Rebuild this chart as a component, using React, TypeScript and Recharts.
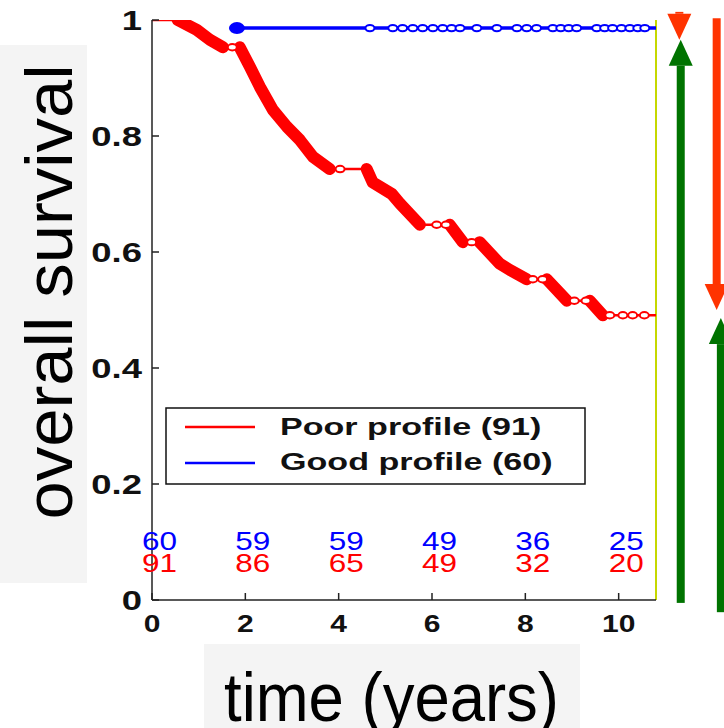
import { ComposedChart, Line, Scatter, XAxis, YAxis, ReferenceLine, ReferenceDot, Legend } from "recharts";

// Kaplan-Meier knots (time in years, survival)
const poorTimes = [0, 0.55, 0.96, 1.24, 1.52, 1.88, 2.1, 2.31, 2.59, 2.89, 3.17, 3.45, 3.81, 4.6, 4.73, 5.14, 5.31, 5.74, 6.38, 6.66, 7.02, 7.45, 7.67, 8.03, 8.46, 8.89, 9.38, 9.66, 10.8];
const poorSurv = [1, 1, 0.983, 0.966, 0.953, 0.953, 0.919, 0.885, 0.845, 0.816, 0.793, 0.764, 0.743, 0.743, 0.72, 0.7, 0.684, 0.647, 0.647, 0.617, 0.617, 0.58, 0.569, 0.553, 0.553, 0.516, 0.516, 0.491, 0.491];
// stretches where events and censor marks pile up into a thick band
const poorDenseSpans = [[0.55, 1.52], [1.88, 3.81], [4.6, 5.74], [6.38, 6.66], [7.02, 8.03], [8.46, 8.89], [9.38, 9.66]];
const poorCensorTimes = [1.72, 4.03, 6.1, 6.3, 6.85, 8.16, 8.37, 9.05, 9.3, 9.81, 10.09, 10.3, 10.55];

// good profile: flat at 1 (hidden under the frame) until the single drop
const goodTimes = [1.82, 10.8];
const goodSurv = [0.986, 0.986];
const goodEventTimes = [1.82];
const goodCensorTimes = [4.67, 5.16, 5.37, 5.59, 5.8, 6.02, 6.23, 6.42, 6.6, 6.96, 7.39, 7.82, 8.03, 8.24, 8.59, 8.76, 8.93, 9.1, 9.53, 9.7, 9.87, 10.06, 10.24, 10.41, 10.56];

// numbers at risk
const riskYears = [0, 2, 4, 6, 8, 10];
const riskGood = [60, 59, 59, 49, 36, 25];
const riskPoor = [91, 86, 65, 49, 32, 20];

const xTicks = [0, 2, 4, 6, 8, 10];
const yTicks = [0, 0.2, 0.4, 0.6, 0.8, 1];

const POOR = "Poor profile (91)";
const GOOD = "Good profile (60)";
const RED = "#ff0000";
const BLUE = "#0000ff";
const ARROW_RED = "#ff3300";
const ARROW_GREEN = "#007300";
const FONT = "'Liberation Sans', Arial, sans-serif";

// annotation arrows beside the plot (x in years, y in survival)
const arrows = [
  { x: 11.3, from: 1.014, to: 0.966, color: ARROW_RED },
  { x: 11.33, from: -0.005, to: 0.966, color: ARROW_GREEN },
  { x: 12.1, from: 1.003, to: 0.5, color: ARROW_RED },
  { x: 12.19, from: -0.021, to: 0.486, color: ARROW_GREEN },
];

const stepAt = (t: number) => {
  let v = poorSurv[0];
  poorTimes.forEach((pt, i) => { if (pt <= t) v = poorSurv[i]; });
  return v;
};

const poorData = poorTimes.map((t, i) => ({ t, s: poorSurv[i] }));
const poorBands = poorDenseSpans.map(([a, b]) => poorData.filter((d) => d.t >= a && d.t <= b));
const poorCensors = poorCensorTimes.map((t) => ({ t, s: stepAt(t) }));
const goodData = goodTimes.map((t, i) => ({ t, s: goodSurv[i] }));
const goodEvents = goodEventTimes.map((t) => ({ t, s: goodSurv[0] }));
const goodCensors = goodCensorTimes.map((t) => ({ t, s: goodSurv[0] }));
const riskRows = [
  ...riskYears.map((t, i) => ({ t, s: 0.102, n: riskGood[i], color: BLUE })),
  ...riskYears.map((t, i) => ({ t, s: 0.064, n: riskPoor[i], color: RED })),
];

const fmt = (v: number) => (v === 0 || v === 1 ? String(v) : v.toFixed(1));

const YTick = ({ x, y, payload }: any) => (
  <text transform={`translate(${x},${y + 9.5}) scale(1.35,1)`} textAnchor="end" fontFamily={FONT} fontWeight="bold" fontSize={27} fill="#111">
    {fmt(payload.value)}
  </text>
);

const XTick = ({ x, y, payload }: any) => (
  <text transform={`translate(${x},${y + 8.6}) scale(1.25,1)`} textAnchor="middle" fontFamily={FONT} fontWeight="bold" fontSize={24} fill="#111">
    {payload.value}
  </text>
);

const openMark = (color: string) => (p: any) => (
  <ellipse cx={p.cx} cy={p.cy} rx={4.5} ry={3.2} fill="#fff" stroke={color} strokeWidth={2} />
);

const riskText = (n: number, color: string) => (p: any) => (
  <text transform={`translate(${p.cx - 10},${p.cy + 9}) scale(1.26,1)`} fontFamily={FONT} fontSize={25} fill={color}>
    {n}
  </text>
);

const arrowShape = (color: string) => (p: any) => {
  const { x1, y1, x2, y2 } = p;
  const dir = y2 > y1 ? 1 : -1;
  const head = 26;
  const baseY = y2 - dir * head;
  return (
    <g>
      <rect x={x1 - 4} y={Math.min(y1, baseY)} width={8} height={Math.abs(baseY - y1)} fill={color} />
      <polygon points={`${x2 - 12},${baseY} ${x2 + 12},${baseY} ${x2},${y2}`} fill={color} />
    </g>
  );
};

const LegendBox = ({ payload }: any) => {
  const order = [POOR, GOOD];
  const items = (payload || []).filter((p: any) => order.includes(p.value)).sort((a: any, b: any) => order.indexOf(a.value) - order.indexOf(b.value));
  return (
    <svg width={421} height={78} style={{ display: "block" }}>
      <rect x={1} y={1} width={419} height={76} fill="#fff" stroke="#111" strokeWidth={1.5} />
      {items.map((p: any, i: number) => (
        <g key={p.value}>
          <line x1={20} x2={90} y1={20 + i * 36} y2={20 + i * 36} stroke={p.color} strokeWidth={2.5} />
          <text transform={`translate(115,${28 + i * 35}) scale(1.42,1)`} fontFamily={FONT} fontWeight="bold" fontSize={24} fill="#111">
            {p.value}
          </text>
        </g>
      ))}
    </svg>
  );
};

const YLabel = () => (
  <g>
    <rect x={0} y={45} width={87} height={538} fill="#f4f4f4" />
    <text transform="translate(72,292) rotate(-90)" textAnchor="middle" fontFamily={FONT} fontSize={66} fill="#000" textLength={455} lengthAdjust="spacingAndGlyphs">
      overall survival
    </text>
  </g>
);

const XLabel = () => (
  <g>
    <rect x={204} y={644} width={376} height={84} fill="#f4f4f4" />
    <text x={224} y={721} fontFamily={FONT} fontSize={68} fill="#000" textLength={335} lengthAdjust="spacingAndGlyphs">
      time (years)
    </text>
  </g>
);

export default function App() {
  return (
    <div style={{ position: "absolute", left: 0, top: 0, width: 724, height: 728, background: "#fff" }}>
      <ComposedChart width={724} height={728} margin={{ top: 20, right: 68, bottom: 0, left: 0 }}>
        <XAxis
          xAxisId={0}
          dataKey="t"
          type="number"
          domain={[0, 10.8]}
          ticks={xTicks}
          allowDataOverflow
          height={128}
          tickSize={-7}
          tickMargin={30}
          tick={<XTick />}
          axisLine={{ stroke: "#222", strokeWidth: 1.5 }}
          tickLine={{ stroke: "#222", strokeWidth: 1.5 }}
          label={<XLabel />}
        />
        <XAxis
          xAxisId="top"
          orientation="top"
          dataKey="t"
          type="number"
          domain={[0, 10.8]}
          ticks={xTicks}
          allowDataOverflow
          height={0}
          tickSize={-7}
          tick={() => <g />}
          axisLine={{ stroke: "#222", strokeWidth: 1.5 }}
          tickLine={{ stroke: "#222", strokeWidth: 1.5 }}
        />
        <YAxis
          dataKey="s"
          type="number"
          domain={[0, 1]}
          ticks={yTicks}
          allowDataOverflow
          width={152}
          tickSize={-7}
          tickMargin={17}
          tick={<YTick />}
          axisLine={{ stroke: "#222", strokeWidth: 1.5 }}
          tickLine={{ stroke: "#222", strokeWidth: 1.5 }}
          label={<YLabel />}
        />
        <ReferenceLine x={10.8} stroke="#c5d800" strokeWidth={2} />
        <Line data={goodData} dataKey="s" name={GOOD} stroke={BLUE} strokeWidth={3.5} dot={false} activeDot={false} type="stepAfter" isAnimationActive={false} />
        <Line data={poorData} dataKey="s" name={POOR} stroke={RED} strokeWidth={2.5} dot={false} activeDot={false} type="linear" isAnimationActive={false} />
        {poorBands.map((band, i) => (
          <Line key={i} data={band} dataKey="s" stroke={RED} strokeWidth={12} strokeLinecap="round" strokeLinejoin="round" dot={false} activeDot={false} type="linear" legendType="none" isAnimationActive={false} />
        ))}
        <Scatter data={poorCensors} shape={openMark(RED)} legendType="none" isAnimationActive={false} />
        <Scatter data={goodCensors} shape={openMark(BLUE)} legendType="none" isAnimationActive={false} />
        <Scatter data={goodEvents} shape={(p: any) => <ellipse cx={p.cx} cy={p.cy} rx={8} ry={6} fill={BLUE} />} legendType="none" isAnimationActive={false} />
        {riskRows.map((r, i) => (
          <ReferenceDot key={`r${i}`} x={r.t} y={r.s} ifOverflow="visible" shape={riskText(r.n, r.color)} />
        ))}
        {arrows.map((a, i) => (
          <ReferenceLine
            key={i}
            segment={[{ x: a.x, y: a.from }, { x: a.x, y: a.to }]}
            ifOverflow="visible"
            shape={arrowShape(a.color)}
          />
        ))}
        <Legend
          layout="horizontal"
          verticalAlign="middle"
          align="center"
          content={<LegendBox />}
          wrapperStyle={{ position: "absolute", left: 165, top: 407, width: 421, height: 78 }}
        />
      </ComposedChart>
    </div>
  );
}
